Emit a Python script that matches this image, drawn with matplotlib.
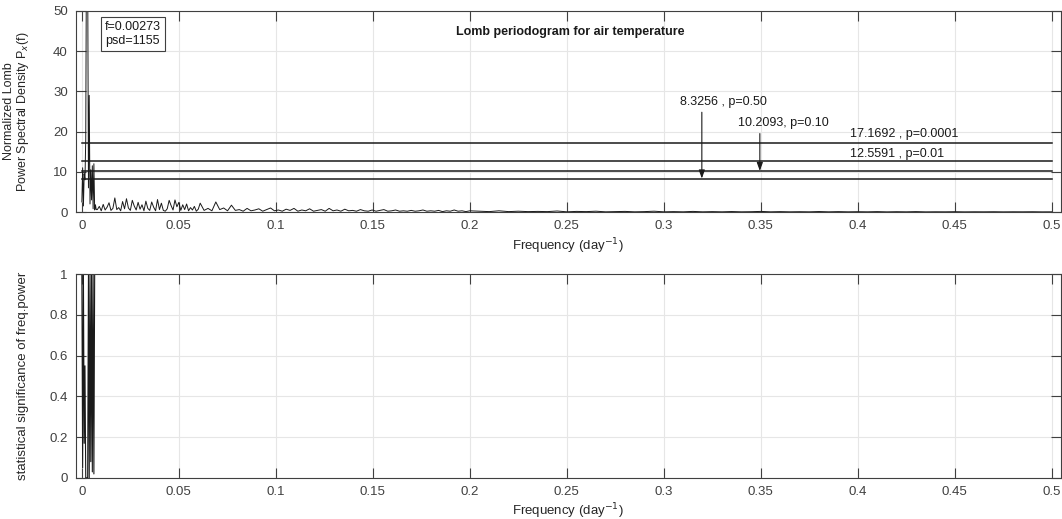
import matplotlib
matplotlib.use('Agg')
import matplotlib.pyplot as plt
import numpy as np

plt.rcParams['font.family'] = ['Liberation Sans', 'DejaVu Sans']

# low frequency part of the Lomb periodogram (day^-1)
low_freq = [0.0000, 0.0004, 0.0008, 0.0012, 0.0016, 0.0020, 0.0024, 0.00273,
            0.0030, 0.0034, 0.0038, 0.0042, 0.0046, 0.0050, 0.0054, 0.0058,
            0.0062, 0.0066, 0.0070, 0.0074]
low_psd = [2.5, 11.0, 1.5, 9.5, 8.0, 18.0, 70.0, 1155.0,
           60.0, 6.0, 29.0, 2.0, 10.5, 3.0, 11.5, 0.8,
           12.0, 0.5, 1.8, 0.6]
low_sig = [1.0, 0.05, 1.0, 0.17, 0.55, 0.0, 0.0, 0.0,
           0.0, 1.0, 0.0, 1.0, 0.08, 1.0, 0.03, 1.0,
           0.02, 1.0, 1.0, 1.0]

# noise floor, three bands
psd_a = [0.6, 1.4, 0.3, 1.9, 0.5, 1.2, 2.3, 0.4, 0.9, 3.5, 0.6, 1.1, 0.3, 2.6,
         0.8, 3.3, 1.0, 0.4, 2.9, 1.5, 0.5, 2.4, 0.7, 1.8, 0.3, 2.7, 0.9, 0.4,
         2.5, 1.2, 0.3, 3.1, 0.6, 2.2, 0.4, 0.2, 0.8, 2.9, 1.6, 0.5, 3.0, 1.3,
         2.4, 0.4, 1.8, 0.6, 2.0, 0.3, 1.1, 0.5, 1.4, 0.2, 0.7]
psd_b = [2.2, 0.4, 0.9, 0.3, 2.5, 0.6, 1.0, 0.3, 1.7, 0.4, 0.6, 0.2, 0.9, 0.3,
         0.5, 0.8, 0.2, 0.6, 1.0, 0.3, 0.5, 0.2, 0.7, 0.4, 0.9, 0.2, 0.5, 0.3,
         0.8, 0.2, 0.4, 0.6, 0.2, 0.9, 0.3, 0.5, 0.2, 0.7, 0.3, 0.4, 0.2, 0.6,
         0.3, 0.2, 0.5, 0.2, 0.4, 0.6, 0.2, 0.3, 0.5, 0.2, 0.3, 0.2, 0.4, 0.2,
         0.3, 0.5, 0.2, 0.3, 0.2, 0.4, 0.1, 0.3, 0.2, 0.5, 0.2, 0.3, 0.1, 0.3]
psd_c = [0.2, 0.1, 0.3, 0.1, 0.2, 0.1, 0.15, 0.1, 0.25, 0.05, 0.15, 0.1, 0.2,
         0.05, 0.1, 0.15, 0.05, 0.1, 0.2, 0.05, 0.1, 0.05, 0.15, 0.05, 0.1,
         0.05, 0.12, 0.05, 0.08, 0.15, 0.05, 0.1, 0.05, 0.08, 0.05, 0.12, 0.05,
         0.1, 0.05, 0.08, 0.05, 0.1, 0.04, 0.08, 0.05, 0.1, 0.04, 0.06, 0.05,
         0.08, 0.04, 0.06, 0.05, 0.07, 0.04, 0.06, 0.05, 0.07, 0.04, 0.05]

freq_a = np.linspace(0.008, 0.060, len(psd_a))
freq_b = np.linspace(0.061, 0.200, len(psd_b))
freq_c = np.linspace(0.205, 0.500, len(psd_c))

freq = np.concatenate([low_freq, freq_a, freq_b, freq_c])
psd = np.concatenate([low_psd, psd_a, psd_b, psd_c])

# significance: only the low band leaves 1
sig_freq = low_freq + [0.500]
sig = low_sig + [1.0]

# significance levels
levels = [8.3256, 10.2093, 12.5591, 17.1692]
level_text = ['8.3256 , p=0.50', '10.2093, p=0.10', '12.5591 , p=0.01', '17.1692 , p=0.0001']

axcol = '#404040'
gridcol = '#e6e6e6'


def style(ax):
    ax.grid(True, color=gridcol, linewidth=0.8)
    ax.set_axisbelow(True)
    for s in ax.spines.values():
        s.set_color(axcol)
        s.set_linewidth(0.8)
    ax.tick_params(direction='in', length=7, width=0.8, colors=axcol,
                   labelsize=9.5, top=True, right=True, pad=6)
    ax.set_xlim(-0.003, 0.5045)
    ax.set_xticks(np.arange(0, 0.51, 0.05))
    ax.set_xticklabels(['0', '0.05', '0.1', '0.15', '0.2', '0.25', '0.3',
                        '0.35', '0.4', '0.45', '0.5'])


fig = plt.figure(figsize=(10.62, 5.19), dpi=100)
ax1 = fig.add_axes([0.0716, 0.5915, 0.927, 0.3875])
ax2 = fig.add_axes([0.0716, 0.079, 0.927, 0.393])

# top panel
ax1.plot(freq, psd, color='#1a1a1a', linewidth=0.7)
for lv in levels:
    ax1.plot([0, 0.5], [lv, lv], color='#1a1a1a', linewidth=1.1)
style(ax1)
ax1.set_ylim(0, 50)
ax1.set_yticks([0, 10, 20, 30, 40, 50])
ax1.set_xlabel('Frequency (day$^{-1}$)', fontsize=9.5, color='#262626', labelpad=3)
ax1.set_ylabel('Normalized Lomb\nPower Spectral Density P$_x$(f)', fontsize=9,
               color='#262626', linespacing=1.0)
ax1.yaxis.set_label_coords(-0.046, 0.5)
ax1.text(0.252, 44.7, 'Lomb periodogram for air temperature', fontsize=9,
         fontweight='bold', ha='center', va='center', color='#1a1a1a')
ax1.text(0.012, 47.6, 'f=0.00273\npsd=1155', fontsize=9, ha='left', va='top',
         color='#1a1a1a', linespacing=1.3,
         bbox=dict(boxstyle='square,pad=0.3', facecolor='white', edgecolor='#404040',
                   linewidth=0.8))

arr = dict(arrowstyle='-|>,head_length=0.5,head_width=0.18', color='#1a1a1a',
           linewidth=0.8, shrinkA=0, shrinkB=0)
ax1.annotate('', xy=(0.3196, levels[0]), xytext=(0.3196, 24.8), arrowprops=arr)
ax1.annotate('', xy=(0.3495, levels[1]), xytext=(0.3495, 19.5), arrowprops=arr)
ax1.text(0.3083, 27.3, level_text[0], fontsize=9, ha='left', va='center', color='#1a1a1a')
ax1.text(0.338, 22.1, level_text[1], fontsize=9, ha='left', va='center', color='#1a1a1a')
ax1.text(0.396, 14.3, level_text[2], fontsize=9, ha='left', va='center', color='#1a1a1a')
ax1.text(0.396, 19.3, level_text[3], fontsize=9, ha='left', va='center', color='#1a1a1a')

# bottom panel
ax2.plot(sig_freq, sig, color='#1a1a1a', linewidth=0.8)
style(ax2)
ax2.set_ylim(0, 1)
ax2.set_yticks([0, 0.2, 0.4, 0.6, 0.8, 1])
ax2.set_yticklabels(['0', '0.2', '0.4', '0.6', '0.8', '1'])
ax2.set_xlabel('Frequency (day$^{-1}$)', fontsize=9.5, color='#262626', labelpad=2)
ax2.set_ylabel('statistical significance of freq.power', fontsize=9.5, color='#262626')
ax2.yaxis.set_label_coords(-0.048, 0.5)

fig.savefig('out.png', dpi=100)
